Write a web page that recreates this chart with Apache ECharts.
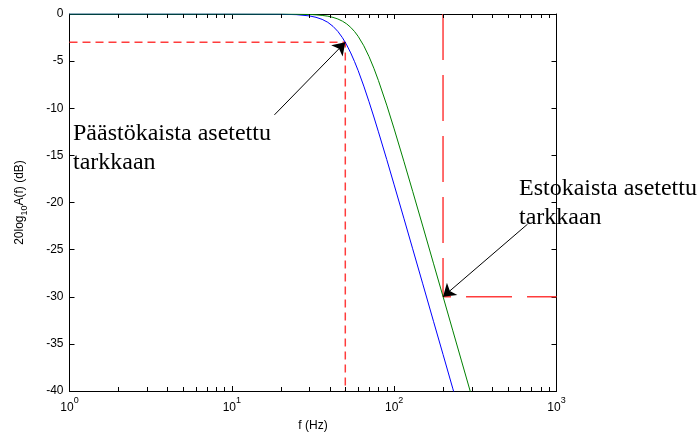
<!DOCTYPE html>
<html><head><meta charset="utf-8">
<script src="https://cdn.jsdelivr.net/npm/echarts@6/dist/echarts.min.js"></script>
<style>html,body{margin:0;padding:0;background:#fff}#c{width:698px;height:437px}</style>
</head><body><div id="c"></div>
<script>
// frequency samples (Hz) and magnitude responses (dB)
const freqs   = [1, 10, 20, 25, 30, 33, 36, 39, 42, 45, 48, 51, 54, 57, 60, 65, 70, 75, 80, 90, 100, 115, 130, 150, 175, 200, 230, 260, 300, 330];
const blueDb  = [0, 0, -0.02, -0.07, -0.20, -0.35, -0.57, -0.88, -1.31, -1.85, -2.51, -3.28, -4.13, -5.05, -6.00, -7.65, -9.31, -10.93, -12.50, -15.44, -18.13, -21.73, -24.91, -28.63, -32.65, -36.12, -39.77, -42.96, -46.69, -49.17];
const greenDb = [0, 0, 0, -0.02, -0.05, -0.09, -0.15, -0.23, -0.36, -0.53, -0.76, -1.05, -1.42, -1.86, -2.37, -3.37, -4.52, -5.76, -7.06, -9.67, -12.19, -15.68, -18.81, -22.50, -26.51, -29.98, -33.62, -36.81, -40.54, -43.03];
// guide lines
const passGuide = [[1, -3], [50, -3], [50, -40]];
const stopGuideV = [[200, 0], [200, -30]];
const stopGuideH = [[200, -30], [1000, -30]];
// annotation arrows: [tail, head]
const passArrow = [[18.3, -10.7], [50, -3]];
const stopArrow = [[663, -22.3], [200, -30]];
const passText = 'Päästökaista asetettu\ntarkkaan';
const stopText = 'Estokaista asetettu\ntarkkaan';
// axis ticks
const xMin = 1, xMax = 1000;
const yMin = -40, yMax = 0, yStep = 5;
const minorTicks = [2,3,4,5,6,7,8,9,20,30,40,50,60,70,80,90,200,300,400,500,600,700,800,900];
const xTitle = 'f (Hz)';

const SANS = '"Liberation Sans", Arial, sans-serif';
const SERIF = '"Liberation Serif", "Times New Roman", serif';

const chart = echarts.init(document.getElementById('c'), null, {renderer: 'canvas'});
const axisCommon = {
  axisLine: {show: true, onZero: false, lineStyle: {color: '#000', width: 1}},
  axisTick: {show: true, inside: true, length: 5, lineStyle: {color: '#000', width: 1}},
  splitLine: {show: false},
  minorTick: {show: false}
};
const RED = '#ff3c3c';
const option = {
  animation: false,
  backgroundColor: '#fff',
  grid: {left: 69.5, right: 141.5, top: 14, bottom: 45, containLabel: false},
  xAxis: [
    Object.assign({
      type: 'log', logBase: 10, min: xMin, max: xMax, position: 'bottom',
      name: xTitle, nameLocation: 'middle', nameGap: 29,
      nameTextStyle: {color: '#000', fontSize: 12, fontFamily: SANS},
      axisLabel: {
        color: '#000', margin: 5,
        formatter: v => '{b|10}{s|' + Math.round(Math.log10(v)) + '}',
        rich: {
          b: {fontSize: 12, fontFamily: SANS, color: '#000', lineHeight: 24},
          s: {fontSize: 9, fontFamily: SANS, color: '#000', lineHeight: 9, verticalAlign: 'top'}
        }
      }
    }, axisCommon),
    Object.assign({
      type: 'log', logBase: 10, min: xMin, max: xMax, position: 'top',
      axisLabel: {show: false}
    }, axisCommon)
  ],
  yAxis: [
    Object.assign({
      type: 'value', min: yMin, max: yMax, interval: yStep, position: 'left',
      name: '{a|20log}{s|10}{a|A(f) (dB)}', nameLocation: 'middle', nameGap: 40, nameRotate: 90,
      nameTextStyle: {
        color: '#000',
        rich: {
          a: {fontSize: 12, fontFamily: SANS, color: '#000', lineHeight: 20},
          s: {fontSize: 9, fontFamily: SANS, color: '#000', lineHeight: 9, verticalAlign: 'bottom'}
        }
      },
      axisLabel: {color: '#000', fontSize: 12, fontFamily: SANS, margin: 6}
    }, axisCommon),
    Object.assign({
      type: 'value', min: yMin, max: yMax, interval: yStep, position: 'right',
      axisLabel: {show: false}
    }, axisCommon)
  ],
  series: [
    {
      type: 'line', data: passGuide, symbol: 'none', silent: true, z: 2,
      lineStyle: {color: RED, width: 1.5, type: [8, 5]}
    },
    {
      type: 'line', data: stopGuideV, symbol: 'none', silent: true, z: 2,
      lineStyle: {color: RED, width: 1.5, type: [46, 15], opacity: 1}
    },
    {
      type: 'line', data: stopGuideH, symbol: 'none', silent: true, z: 2,
      lineStyle: {color: RED, width: 1.5, type: [46, 15], dashOffset: 38, opacity: 1}
    },
    {
      type: 'line', data: freqs.map((f, i) => [f, blueDb[i]]), symbol: 'none',
      lineStyle: {color: '#0000ff', width: 1}, clip: true, z: 3, silent: true
    },
    {
      type: 'line', data: freqs.map((f, i) => [f, greenDb[i]]), symbol: 'none',
      lineStyle: {color: '#008000', width: 1}, clip: true, z: 3, silent: true
    },
    {
      type: 'lines', coordinateSystem: 'cartesian2d', silent: true, z: 6,
      symbol: ['none', 'arrow'], symbolSize: [8, 12],
      lineStyle: {color: '#000', width: 1, opacity: 1, curveness: 0},
      data: [
        {coords: passArrow},
        {coords: stopArrow}
      ]
    },
    {
      type: 'custom', coordinateSystem: 'cartesian2d', silent: true, z: 5, clip: false,
      data: minorTicks.map(f => [f, yMin]),
      encode: {x: 0, y: 1},
      renderItem: (params, api) => {
        const f = api.value(0);
        const b = api.coord([f, yMin]);
        const t = api.coord([f, yMax]);
        const x = Math.round(b[0]) + 0.5;
        return {type: 'group', children: [
          {type: 'line', shape: {x1: x, y1: b[1], x2: x, y2: b[1] - 4}, style: {stroke: '#000', lineWidth: 1}},
          {type: 'line', shape: {x1: x, y1: t[1], x2: x, y2: t[1] + 4}, style: {stroke: '#000', lineWidth: 1}}
        ]};
      }
    }
  ],
  graphic: [
    {type: 'text', left: 73, top: 119, z: -1,
     style: {text: passText, font: '24px ' + SERIF, fill: '#000', lineHeight: 29}},
    {type: 'text', left: 519, top: 174, z: -1,
     style: {text: stopText, font: '24px ' + SERIF, fill: '#000', lineHeight: 29}}
  ]
};
chart.setOption(option);
</script>
</body></html>
